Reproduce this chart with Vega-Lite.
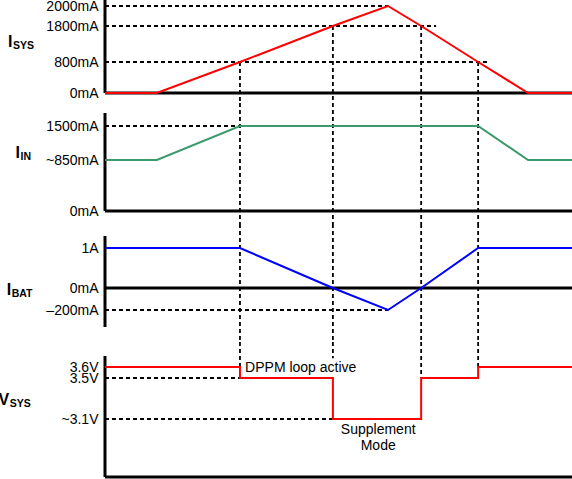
{
  "$schema": "https://vega.github.io/schema/vega-lite/v6.json",
  "width": 467,
  "height": 477,
  "autosize": {"type": "none"},
  "padding": {"left": 105, "top": 0, "right": 0, "bottom": 2},
  "config": {
    "view": {"stroke": null},
    "font": "Liberation Sans",
    "axis": {
      "labelFont": "Liberation Sans",
      "labelFontSize": 14,
      "labelColor": "black",
      "labelPadding": 7,
      "labelOverlap": false,
      "labelBound": false,
      "labelFlush": false,
      "ticks": false,
      "domain": false,
      "grid": false,
      "title": null
    }
  },
  "datasets": {
    "isys": [
      {"t": 0, "v": 0}, {"t": 11.1, "v": 0}, {"t": 28.9, "v": 800}, {"t": 48.8, "v": 1800},
      {"t": 60.6, "v": 2000}, {"t": 67.7, "v": 1800}, {"t": 79.9, "v": 800}, {"t": 90.6, "v": 0}, {"t": 100, "v": 0}
    ],
    "iin": [
      {"t": 0, "v": 850}, {"t": 11.1, "v": 850}, {"t": 28.9, "v": 1500},
      {"t": 79.9, "v": 1500}, {"t": 90.6, "v": 850}, {"t": 100, "v": 850}
    ],
    "ibat": [
      {"t": 0, "v": 1000}, {"t": 28.9, "v": 1000}, {"t": 48.8, "v": 0}, {"t": 60.6, "v": -200},
      {"t": 67.7, "v": 0}, {"t": 79.9, "v": 1000}, {"t": 100, "v": 1000}
    ],
    "vsys": [
      {"t": 0, "v": 3.6}, {"t": 28.9, "v": 3.5}, {"t": 48.8, "v": 3.1},
      {"t": 67.7, "v": 3.5}, {"t": 79.9, "v": 3.6}, {"t": 100, "v": 3.6}
    ],
    "rules": [
      {"panel": "ISYS", "kind": "solid", "t": 0, "t2": 0, "v": 0, "v2": 2070},
      {"panel": "ISYS", "kind": "solid", "t": 0, "t2": 100, "v": 0, "v2": 0},
      {"panel": "ISYS", "kind": "dash", "t": 0, "t2": 60.6, "v": 2000, "v2": 2000},
      {"panel": "ISYS", "kind": "dash", "t": 0, "t2": 70.9, "v": 1800, "v2": 1800},
      {"panel": "ISYS", "kind": "dash", "t": 0, "t2": 82.2, "v": 800, "v2": 800},
      {"panel": "ISYS", "kind": "dash", "t": 28.9, "t2": 28.9, "v": 800, "v2": -260},
      {"panel": "ISYS", "kind": "dash", "t": 48.8, "t2": 48.8, "v": 1800, "v2": -260},
      {"panel": "ISYS", "kind": "dash", "t": 67.7, "t2": 67.7, "v": 1800, "v2": -260},
      {"panel": "ISYS", "kind": "dash", "t": 79.9, "t2": 79.9, "v": 800, "v2": -260},
      {"panel": "IIN", "kind": "solid", "t": 0, "t2": 0, "v": 0, "v2": 1750},
      {"panel": "IIN", "kind": "solid", "t": 0, "t2": 100, "v": 0, "v2": 0},
      {"panel": "IIN", "kind": "dash", "t": 0, "t2": 28.9, "v": 1500, "v2": 1500},
      {"panel": "IIN", "kind": "dash", "t": 28.9, "t2": 28.9, "v": 1940, "v2": -220},
      {"panel": "IIN", "kind": "dash", "t": 48.8, "t2": 48.8, "v": 1940, "v2": -220},
      {"panel": "IIN", "kind": "dash", "t": 67.7, "t2": 67.7, "v": 1940, "v2": -220},
      {"panel": "IIN", "kind": "dash", "t": 79.9, "t2": 79.9, "v": 1940, "v2": -220},
      {"panel": "IBAT", "kind": "solid", "t": 0, "t2": 0, "v": -355, "v2": 1300},
      {"panel": "IBAT", "kind": "solid", "t": 0, "t2": 100, "v": 0, "v2": 0},
      {"panel": "IBAT", "kind": "dash", "t": 0, "t2": 60.6, "v": -200, "v2": -200},
      {"panel": "IBAT", "kind": "dash", "t": 28.9, "t2": 28.9, "v": 1600, "v2": -490},
      {"panel": "IBAT", "kind": "dash", "t": 48.8, "t2": 48.8, "v": 1600, "v2": -490},
      {"panel": "IBAT", "kind": "dash", "t": 67.7, "t2": 67.7, "v": 1600, "v2": -490},
      {"panel": "IBAT", "kind": "dash", "t": 79.9, "t2": 79.9, "v": 1600, "v2": -490},
      {"panel": "VSYS", "kind": "solid", "t": 0, "t2": 0, "v": 2.5, "v2": 3.7},
      {"panel": "VSYS", "kind": "solid", "t": 0, "t2": 100, "v": 2.5, "v2": 2.5},
      {"panel": "VSYS", "kind": "dash", "t": 0, "t2": 28.9, "v": 3.5, "v2": 3.5},
      {"panel": "VSYS", "kind": "dash", "t": 0, "t2": 48.8, "v": 3.1, "v2": 3.1},
      {"panel": "VSYS", "kind": "dash", "t": 28.9, "t2": 28.9, "v": 3.83, "v2": 3.6},
      {"panel": "VSYS", "kind": "dash", "t": 48.8, "t2": 48.8, "v": 3.83, "v2": 3.68},
      {"panel": "VSYS", "kind": "dash", "t": 67.7, "t2": 67.7, "v": 3.83, "v2": 3.5},
      {"panel": "VSYS", "kind": "dash", "t": 79.9, "t2": 79.9, "v": 3.83, "v2": 3.6}
    ],
    "labels": [
      {"panel": "ISYS", "main": "I", "sub": "SYS", "t": -19.8, "v": 1356},
      {"panel": "IIN", "main": "I", "sub": "IN", "t": -18.2, "v": 993},
      {"panel": "IBAT", "main": "I", "sub": "BAT", "t": -20.1, "v": -14},
      {"panel": "VSYS", "main": "V", "sub": "SYS", "t": -20.5, "v": 3.285}
    ],
    "notes": [
      {"note": "dppm", "txt": "DPPM loop active", "t": 30, "v": 3.59},
      {"note": "supp", "txt": "Supplement\nMode", "t": 58.5, "v": 2.985}
    ]
  },
  "encoding": {
    "x": {"field": "t", "type": "quantitative", "scale": {"domain": [0, 100], "nice": false, "zero": false}, "axis": null}
  },
  "layer": [
    {
      "encoding": {
        "y": {
          "field": "v", "type": "quantitative",
          "scale": {"domain": [-260, 0, 800, 1800, 2000, 2070], "range": [103, 93, 62, 26, 6, 0], "nice": false, "zero": false},
          "axis": {"orient": "left", "values": [0, 800, 1800, 2000], "labelExpr": "datum.value + 'mA'"}
        }
      },
      "layer": [
        {"data": {"name": "rules"}, "transform": [{"filter": "datum.panel === 'ISYS' && datum.kind === 'dash'"}],
         "mark": {"type": "rule", "color": "black", "strokeWidth": 1.8, "strokeDash": [4, 3]},
         "encoding": {"x2": {"field": "t2"}, "y2": {"field": "v2"}}},
        {"data": {"name": "rules"}, "transform": [{"filter": "datum.panel === 'ISYS' && datum.kind === 'solid'"}],
         "mark": {"type": "rule", "color": "black", "strokeWidth": 3},
         "encoding": {"x2": {"field": "t2"}, "y2": {"field": "v2"}}},
        {"data": {"name": "isys"}, "mark": {"type": "line", "color": "#ff0000", "strokeWidth": 2}, "encoding": {}},
        {"data": {"name": "labels"}, "transform": [{"filter": "datum.panel === 'ISYS'"}],
         "mark": {"type": "text", "fontSize": 16, "fontWeight": "bold", "align": "right", "baseline": "middle", "color": "black"},
         "encoding": {"text": {"field": "main"}}},
        {"data": {"name": "labels"}, "transform": [{"filter": "datum.panel === 'ISYS'"}],
         "mark": {"type": "text", "fontSize": 10.5, "fontWeight": "bold", "align": "left", "baseline": "middle", "dx": 0.5, "dy": 4, "color": "black"},
         "encoding": {"text": {"field": "sub"}}}
      ]
    },
    {
      "encoding": {
        "y": {
          "field": "v", "type": "quantitative",
          "scale": {"domain": [-220, 0, 850, 1500, 1750, 1940], "range": [224, 211, 160, 126, 113, 103], "nice": false, "zero": false},
          "axis": {"orient": "left", "values": [0, 850, 1500], "labelExpr": "datum.value == 850 ? '~850mA' : datum.value + 'mA'"}
        }
      },
      "layer": [
        {"data": {"name": "rules"}, "transform": [{"filter": "datum.panel === 'IIN' && datum.kind === 'dash'"}],
         "mark": {"type": "rule", "color": "black", "strokeWidth": 1.8, "strokeDash": [4, 3]},
         "encoding": {"x2": {"field": "t2"}, "y2": {"field": "v2"}}},
        {"data": {"name": "rules"}, "transform": [{"filter": "datum.panel === 'IIN' && datum.kind === 'solid'"}],
         "mark": {"type": "rule", "color": "black", "strokeWidth": 3},
         "encoding": {"x2": {"field": "t2"}, "y2": {"field": "v2"}}},
        {"data": {"name": "iin"}, "mark": {"type": "line", "color": "#3a9a6b", "strokeWidth": 2}, "encoding": {}},
        {"data": {"name": "labels"}, "transform": [{"filter": "datum.panel === 'IIN'"}],
         "mark": {"type": "text", "fontSize": 16, "fontWeight": "bold", "align": "right", "baseline": "middle", "color": "black"},
         "encoding": {"text": {"field": "main"}}},
        {"data": {"name": "labels"}, "transform": [{"filter": "datum.panel === 'IIN'"}],
         "mark": {"type": "text", "fontSize": 10.5, "fontWeight": "bold", "align": "left", "baseline": "middle", "dx": 0.5, "dy": 4, "color": "black"},
         "encoding": {"text": {"field": "sub"}}}
      ]
    },
    {
      "encoding": {
        "y": {
          "field": "v", "type": "quantitative",
          "scale": {"domain": [-490, -355, -200, 0, 1000, 1300, 1600], "range": [342, 327, 310, 288, 248, 236, 224], "nice": false, "zero": false},
          "axis": {"orient": "left", "values": [-200, 0, 1000], "labelExpr": "datum.value == 1000 ? '1A' : datum.value == -200 ? '–200mA' : datum.value + 'mA'"}
        }
      },
      "layer": [
        {"data": {"name": "rules"}, "transform": [{"filter": "datum.panel === 'IBAT' && datum.kind === 'dash'"}],
         "mark": {"type": "rule", "color": "black", "strokeWidth": 1.8, "strokeDash": [4, 3]},
         "encoding": {"x2": {"field": "t2"}, "y2": {"field": "v2"}}},
        {"data": {"name": "rules"}, "transform": [{"filter": "datum.panel === 'IBAT' && datum.kind === 'solid'"}],
         "mark": {"type": "rule", "color": "black", "strokeWidth": 3},
         "encoding": {"x2": {"field": "t2"}, "y2": {"field": "v2"}}},
        {"data": {"name": "ibat"}, "mark": {"type": "line", "color": "#0000ff", "strokeWidth": 2}, "encoding": {}},
        {"data": {"name": "labels"}, "transform": [{"filter": "datum.panel === 'IBAT'"}],
         "mark": {"type": "text", "fontSize": 16, "fontWeight": "bold", "align": "right", "baseline": "middle", "color": "black"},
         "encoding": {"text": {"field": "main"}}},
        {"data": {"name": "labels"}, "transform": [{"filter": "datum.panel === 'IBAT'"}],
         "mark": {"type": "text", "fontSize": 10.5, "fontWeight": "bold", "align": "left", "baseline": "middle", "dx": 0.5, "dy": 4, "color": "black"},
         "encoding": {"text": {"field": "sub"}}}
      ]
    },
    {
      "encoding": {
        "y": {
          "field": "v", "type": "quantitative",
          "scale": {"domain": [2.5, 3.1, 3.5, 3.6, 3.7, 3.83], "range": [477, 419, 378, 367, 356, 342], "nice": false, "zero": false},
          "axis": {"orient": "left", "values": [3.1, 3.5, 3.6], "labelExpr": "datum.value == 3.1 ? '~3.1V' : format(datum.value, '.1f') + 'V'"}
        }
      },
      "layer": [
        {"data": {"name": "rules"}, "transform": [{"filter": "datum.panel === 'VSYS' && datum.kind === 'dash'"}],
         "mark": {"type": "rule", "color": "black", "strokeWidth": 1.8, "strokeDash": [4, 3]},
         "encoding": {"x2": {"field": "t2"}, "y2": {"field": "v2"}}},
        {"data": {"name": "rules"}, "transform": [{"filter": "datum.panel === 'VSYS' && datum.kind === 'solid'"}],
         "mark": {"type": "rule", "color": "black", "strokeWidth": 3},
         "encoding": {"x2": {"field": "t2"}, "y2": {"field": "v2"}}},
        {"data": {"name": "vsys"}, "mark": {"type": "line", "color": "#ff0000", "strokeWidth": 2, "interpolate": "step-after"}, "encoding": {}},
        {"data": {"name": "labels"}, "transform": [{"filter": "datum.panel === 'VSYS'"}],
         "mark": {"type": "text", "fontSize": 16, "fontWeight": "bold", "align": "right", "baseline": "middle", "color": "black"},
         "encoding": {"text": {"field": "main"}}},
        {"data": {"name": "labels"}, "transform": [{"filter": "datum.panel === 'VSYS'"}],
         "mark": {"type": "text", "fontSize": 10.5, "fontWeight": "bold", "align": "left", "baseline": "middle", "dx": 0.5, "dy": 4, "color": "black"},
         "encoding": {"text": {"field": "sub"}}},
        {"data": {"name": "notes"}, "transform": [{"filter": "datum.note === 'dppm'"}],
         "mark": {"type": "text", "fontSize": 14, "align": "left", "baseline": "middle", "color": "black"},
         "encoding": {"text": {"field": "txt"}}},
        {"data": {"name": "notes"}, "transform": [{"filter": "datum.note === 'supp'"}],
         "mark": {"type": "text", "fontSize": 14, "align": "center", "baseline": "middle", "lineBreak": "\n", "lineHeight": 16, "color": "black"},
         "encoding": {"text": {"field": "txt"}}}
      ]
    }
  ],
  "resolve": {"scale": {"y": "independent"}, "axis": {"y": "independent"}}
}
